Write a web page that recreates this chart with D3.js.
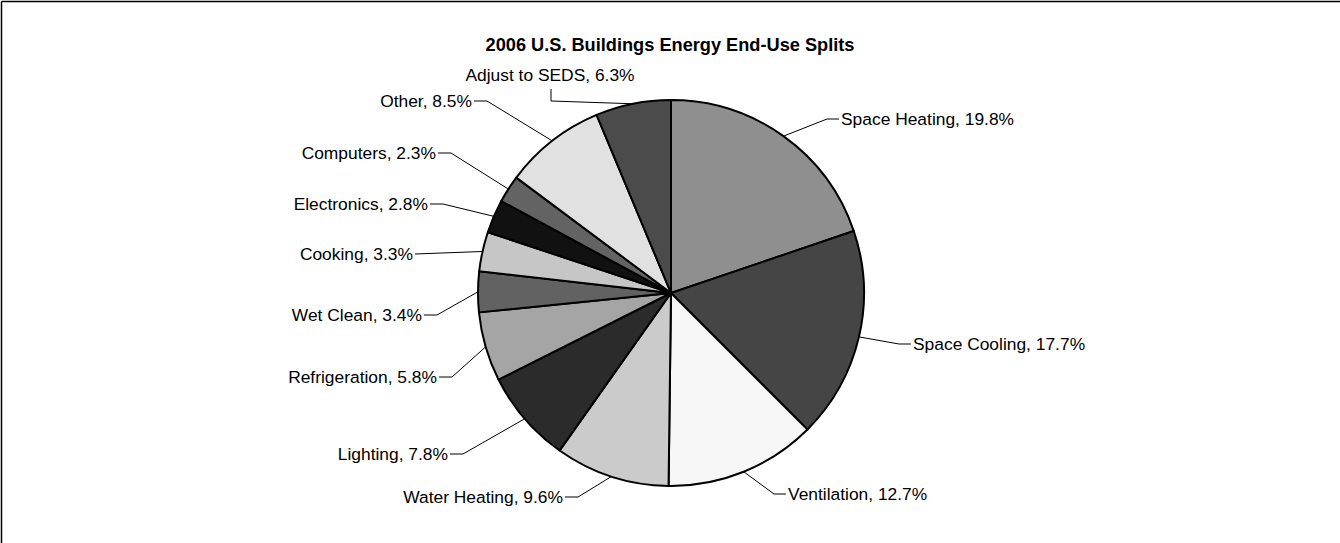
<!DOCTYPE html>
<html>
<head>
<meta charset="utf-8">
<script src="https://cdn.jsdelivr.net/npm/d3@7"></script>
<style>
  html, body { margin: 0; padding: 0; background: #fff; }
  svg { display: block; }
  text { font-family: "Liberation Sans", Arial, sans-serif; fill: #000; }
</style>
</head>
<body>
<svg id="chart" width="1340" height="543"></svg>
<script>
// ---- data ----
const title = "2006 U.S. Buildings Energy End-Use Splits";
const categories = ["Space Heating", "Space Cooling", "Ventilation", "Water Heating", "Lighting",
  "Refrigeration", "Wet Clean", "Cooking", "Electronics", "Computers", "Other", "Adjust to SEDS"];
const values = [19.8, 17.7, 12.7, 9.6, 7.8, 5.8, 3.4, 3.3, 2.8, 2.3, 8.5, 6.3];
const fills = ["#8f8f8f", "#454545", "#f7f7f7", "#cbcbcb", "#2b2b2b", "#a5a5a5",
  "#626262", "#c6c6c6", "#111111", "#636363", "#e1e1e1", "#4b4b4b"];

// ---- layout (label anchor points) ----
const labelPos = [
  {x: 839, y: 119, side: "r"},
  {x: 911, y: 344, side: "r"},
  {x: 786, y: 494, side: "r"},
  {x: 565, y: 497, side: "l"},
  {x: 450, y: 454, side: "l"},
  {x: 439, y: 377, side: "l"},
  {x: 424, y: 315, side: "l"},
  {x: 415, y: 254, side: "l", straight: true},
  {x: 430, y: 204, side: "l"},
  {x: 438, y: 153, side: "l"},
  {x: 474, y: 101, side: "l"},
  {x: 551, y: 89, side: "t"}
];

const svg = d3.select("#chart");
const cx = 671, cy = 293, R = 193;

// frame (top and left rules)
svg.append("line").attr("x1", 1.5).attr("y1", 1.5).attr("x2", 1340).attr("y2", 1.5)
  .attr("stroke", "#000").attr("stroke-width", 1.5);
svg.append("line").attr("x1", 1.5).attr("y1", 1.5).attr("x2", 1.5).attr("y2", 543)
  .attr("stroke", "#000").attr("stroke-width", 1.5);

svg.append("text").attr("x", 670).attr("y", 45).attr("dy", "0.35em")
  .attr("text-anchor", "middle").attr("font-weight", "bold").attr("font-size", 18.2)
  .text(title);

const pie = d3.pie().sort(null).value(d => d)(values);
const arc = d3.arc().innerRadius(0).outerRadius(R);
const g = svg.append("g").attr("transform", `translate(${cx},${cy})`);

g.selectAll("path.slice").data(pie).join("path")
  .attr("class", "slice")
  .attr("d", arc)
  .attr("fill", (d, i) => fills[i])
  .attr("stroke", "#000").attr("stroke-width", 2).attr("stroke-linejoin", "round");

// leader lines & labels
pie.forEach((d, i) => {
  const a = (d.startAngle + d.endAngle) / 2;
  const px = cx + R * Math.sin(a), py = cy - R * Math.cos(a);
  const L = labelPos[i];
  let pts;
  if (L.side === "t") {
    pts = [[L.x, L.y], [L.x, L.y + 12], [px, py]];
  } else if (L.straight) {
    pts = [[L.x, L.y], [px, py]];
  } else {
    const ex = L.side === "r" ? L.x - 12 : L.x + 13;
    pts = [[L.x, L.y], [ex, L.y], [px, py]];
  }
  svg.append("path").attr("d", d3.line()(pts))
    .attr("fill", "none").attr("stroke", "#000").attr("stroke-width", 1);

  const txt = `${categories[i]}, ${values[i].toFixed(1)}%`;
  const t = svg.append("text").attr("font-size", 17.4).attr("dy", "0.35em").text(txt);
  if (L.side === "r") t.attr("x", L.x + 2).attr("y", L.y).attr("text-anchor", "start");
  else if (L.side === "l") t.attr("x", L.x - 2).attr("y", L.y).attr("text-anchor", "end");
  else t.attr("x", L.x - 1).attr("y", 75).attr("text-anchor", "middle");
});
</script>
</body>
</html>
